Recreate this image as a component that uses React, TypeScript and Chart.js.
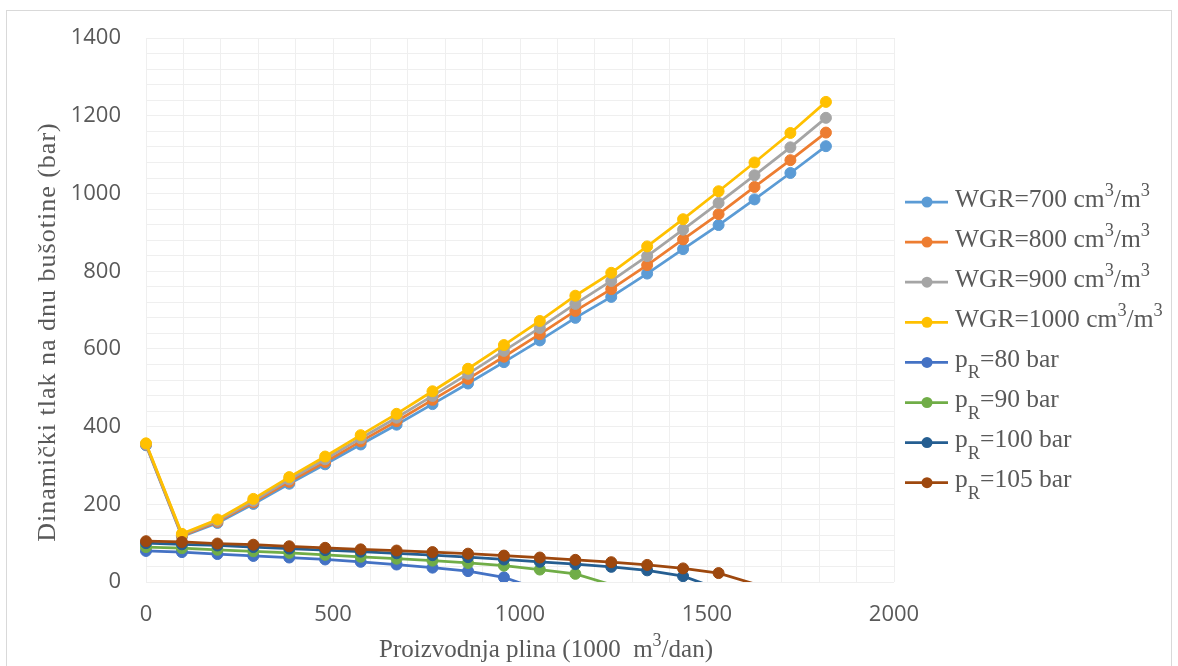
import React, { useEffect, useRef } from 'react';
import { Chart, registerables } from 'chart.js';

Chart.register(...registerables);

// ---------- data ----------
const qValues = [0, 96, 191, 287, 383, 479, 574, 670, 766, 861, 957, 1053, 1148, 1244, 1340, 1436, 1531, 1627, 1723, 1818];

const wgr700 = [352, 117, 152, 201, 253, 303, 354, 405, 458, 511, 566, 622, 680, 734, 794, 857, 919, 985, 1053, 1122];
const wgr800 = [354, 119, 155, 205, 258, 309, 362, 414, 469, 523, 580, 638, 698, 754, 816, 882, 947, 1017, 1086, 1157];
const wgr900 = [355, 122, 158, 209, 264, 316, 370, 423, 479, 536, 595, 654, 716, 775, 839, 907, 976, 1047, 1119, 1195];
const wgr1000 = [357, 124, 161, 214, 270, 323, 378, 433, 491, 549, 610, 672, 737, 796, 864, 934, 1006, 1080, 1156, 1236];

const pR80 = [80, 77, 72, 67, 63, 58, 52, 45, 37, 28, 12, -20];
const pR90 = [90, 87, 83, 79, 75, 70, 65, 60, 55, 49, 42, 32, 21, -7];
const pR100 = [100, 97, 94, 90, 86, 82, 78, 74, 69, 64, 58, 52, 46, 39, 30, 15, -18];
const pR105 = [105, 103, 99, 96, 92, 88, 84, 81, 77, 73, 68, 63, 57, 51, 44, 35, 23, -5];

const seriesNames = [
  'WGR=700 cm^3/m^3',
  'WGR=800 cm^3/m^3',
  'WGR=900 cm^3/m^3',
  'WGR=1000 cm^3/m^3',
  'p_R=80 bar',
  'p_R=90 bar',
  'p_R=100 bar',
  'p_R=105 bar',
];
const seriesValues = [wgr700, wgr800, wgr900, wgr1000, pR80, pR90, pR100, pR105];
const seriesColors = ['#5B9BD5', '#ED7D31', '#A5A5A5', '#FFC000', '#4472C4', '#70AD47', '#255E91', '#9E480E'];

const xTitle = 'Proizvodnja plina (1000  m^3/dan)';
const yTitle = 'Dinamički tlak na dnu bušotine (bar)';

const xMin = 0, xMax = 2000, xStep = 500, xMinorStep = 100;
const yMin = 0, yMax = 1400, yStep = 200, yMinorStep = 40;

// ---------- rich text helpers ----------
type Seg = { t: string; k: 'n' | 'sup' | 'sub' };
function parseRich(text: string): Seg[] {
  const segs: Seg[] = [];
  let buf = '';
  for (let i = 0; i < text.length; i++) {
    const c = text[i];
    if ((c === '^' || c === '_') && i + 1 < text.length) {
      if (buf) { segs.push({ t: buf, k: 'n' }); buf = ''; }
      segs.push({ t: text[i + 1], k: c === '^' ? 'sup' : 'sub' });
      i++;
    } else buf += c;
  }
  if (buf) segs.push({ t: buf, k: 'n' });
  return segs;
}

const SERIF = '"Liberation Serif", "Times New Roman", serif';
const SMALL = 0.72;

function richWidth(ctx: CanvasRenderingContext2D, segs: Seg[], size: number) {
  let w = 0;
  for (const s of segs) {
    ctx.font = `${s.k === 'n' ? size : size * SMALL}px ${SERIF}`;
    w += ctx.measureText(s.t).width;
  }
  return w;
}

function drawRich(ctx: CanvasRenderingContext2D, text: string, x: number, y: number, size: number, align: 'left' | 'center') {
  const segs = parseRich(text);
  const w = richWidth(ctx, segs, size);
  let cx = align === 'center' ? x - w / 2 : x;
  ctx.textBaseline = 'middle';
  ctx.textAlign = 'left';
  for (const s of segs) {
    ctx.font = `${s.k === 'n' ? size : size * SMALL}px ${SERIF}`;
    const dy = s.k === 'sup' ? -size * 0.34 : s.k === 'sub' ? size * 0.52 : 0;
    ctx.fillText(s.t, cx, y + dy);
    cx += ctx.measureText(s.t).width;
  }
}

const decorPlugin = {
  id: 'decor',
  afterDraw(chart: any) {
    const ctx: CanvasRenderingContext2D = chart.ctx;
    const area = chart.chartArea;
    ctx.save();
    ctx.fillStyle = '#595959';
    // x title
    drawRich(ctx, xTitle, (area.left + area.right) / 2 + 26, 650, 25, 'center');
    // y title
    ctx.save();
    ctx.translate(48, 332);
    ctx.rotate(-Math.PI / 2);
    (ctx as any).letterSpacing = '1px';
    drawRich(ctx, yTitle, 0, 0, 26, 'center');
    (ctx as any).letterSpacing = '0px';
    ctx.restore();

    // legend
    const top = 202;
    const gap = 40.1;
    seriesNames.forEach((name, i) => {
      const y = top + i * gap;
      const color = seriesColors[i];
      ctx.strokeStyle = color;
      ctx.lineWidth = 2.75;
      ctx.beginPath();
      ctx.moveTo(905, y);
      ctx.lineTo(948, y);
      ctx.stroke();
      ctx.fillStyle = color;
      ctx.beginPath();
      ctx.arc(927, y, 5.5, 0, Math.PI * 2);
      ctx.fill();
      ctx.fillStyle = '#595959';
      drawRich(ctx, name, 955, y - 2, 25.5, 'left');
    });
    ctx.restore();
  },
};

export default function App() {
  const canvasRef = useRef<HTMLCanvasElement | null>(null);

  useEffect(() => {
    if (!canvasRef.current) return;
    const datasets = seriesValues.map((vals, i) => ({
      label: seriesNames[i],
      data: vals.map((v, j) => ({ x: qValues[j], y: v })),
      borderColor: seriesColors[i],
      backgroundColor: seriesColors[i],
      pointBackgroundColor: seriesColors[i],
      pointBorderColor: seriesColors[i],
      borderWidth: 2.75,
      pointRadius: (c: any) => (c.raw && c.raw.y < 0 ? 0 : 5.5),
      pointBorderWidth: 1,
      tension: 0,
      fill: false,
      order: seriesValues.length - i,
      clip: { left: 10, right: 10, top: 10, bottom: 0 },
    }));

    const tickFont = { family: '"Open Sans", "Liberation Sans", sans-serif', size: 22 };
    const plain = (v: any) => String(v);

    const chart = new Chart(canvasRef.current, {
      type: 'line',
      data: { datasets },
      plugins: [decorPlugin],
      options: {
        responsive: false,
        animation: false,
        events: [],
        layout: { padding: { left: 0, top: 33, right: 284, bottom: 0 } },
        plugins: { legend: { display: false }, tooltip: { enabled: false }, title: { display: false } },
        scales: {
          x: {
            type: 'linear',
            position: 'bottom',
            min: xMin,
            max: xMax,
            ticks: { stepSize: xStep, font: tickFont, color: '#595959', padding: 20, maxRotation: 0, callback: plain },
            grid: { color: '#d9d9d9', drawTicks: false, lineWidth: 1 },
            border: { display: false },
            afterFit(s: any) { s.height = 84; },
          },
          xMinor: {
            type: 'linear',
            axis: 'x',
            position: 'bottom',
            min: xMin,
            max: xMax,
            z: -1,
            ticks: { stepSize: xMinorStep, display: false },
            grid: { color: '#efefef', drawTicks: false, lineWidth: 1 },
            border: { display: false },
            afterFit(s: any) { s.height = 0; },
          },
          y: {
            type: 'linear',
            position: 'left',
            min: yMin,
            max: yMax,
            ticks: { stepSize: yStep, font: tickFont, color: '#595959', padding: 25, callback: plain },
            grid: { color: '#d9d9d9', drawTicks: false, lineWidth: 1 },
            border: { display: false },
            afterFit(s: any) { s.width = 146; },
          },
          yMinor: {
            type: 'linear',
            axis: 'y',
            position: 'left',
            min: yMin,
            max: yMax,
            z: -1,
            ticks: { stepSize: yMinorStep, display: false },
            grid: { color: '#efefef', drawTicks: false, lineWidth: 1 },
            border: { display: false },
            afterFit(s: any) { s.width = 0; },
          },
        },
      } as any,
    });
    return () => chart.destroy();
  }, []);

  return (
    <div style={{ position: 'fixed', left: 0, top: 0, width: 1178, height: 666, background: '#ffffff', overflow: 'hidden' }}>
      <canvas ref={canvasRef} width={1178} height={666} style={{ position: 'absolute', left: 0, top: 0 }} />
      <div
        style={{
          position: 'absolute',
          left: 6,
          top: 10,
          width: 1166,
          height: 670,
          border: '1px solid #d9d9d9',
          boxSizing: 'border-box',
          pointerEvents: 'none',
        }}
      />
    </div>
  );
}
